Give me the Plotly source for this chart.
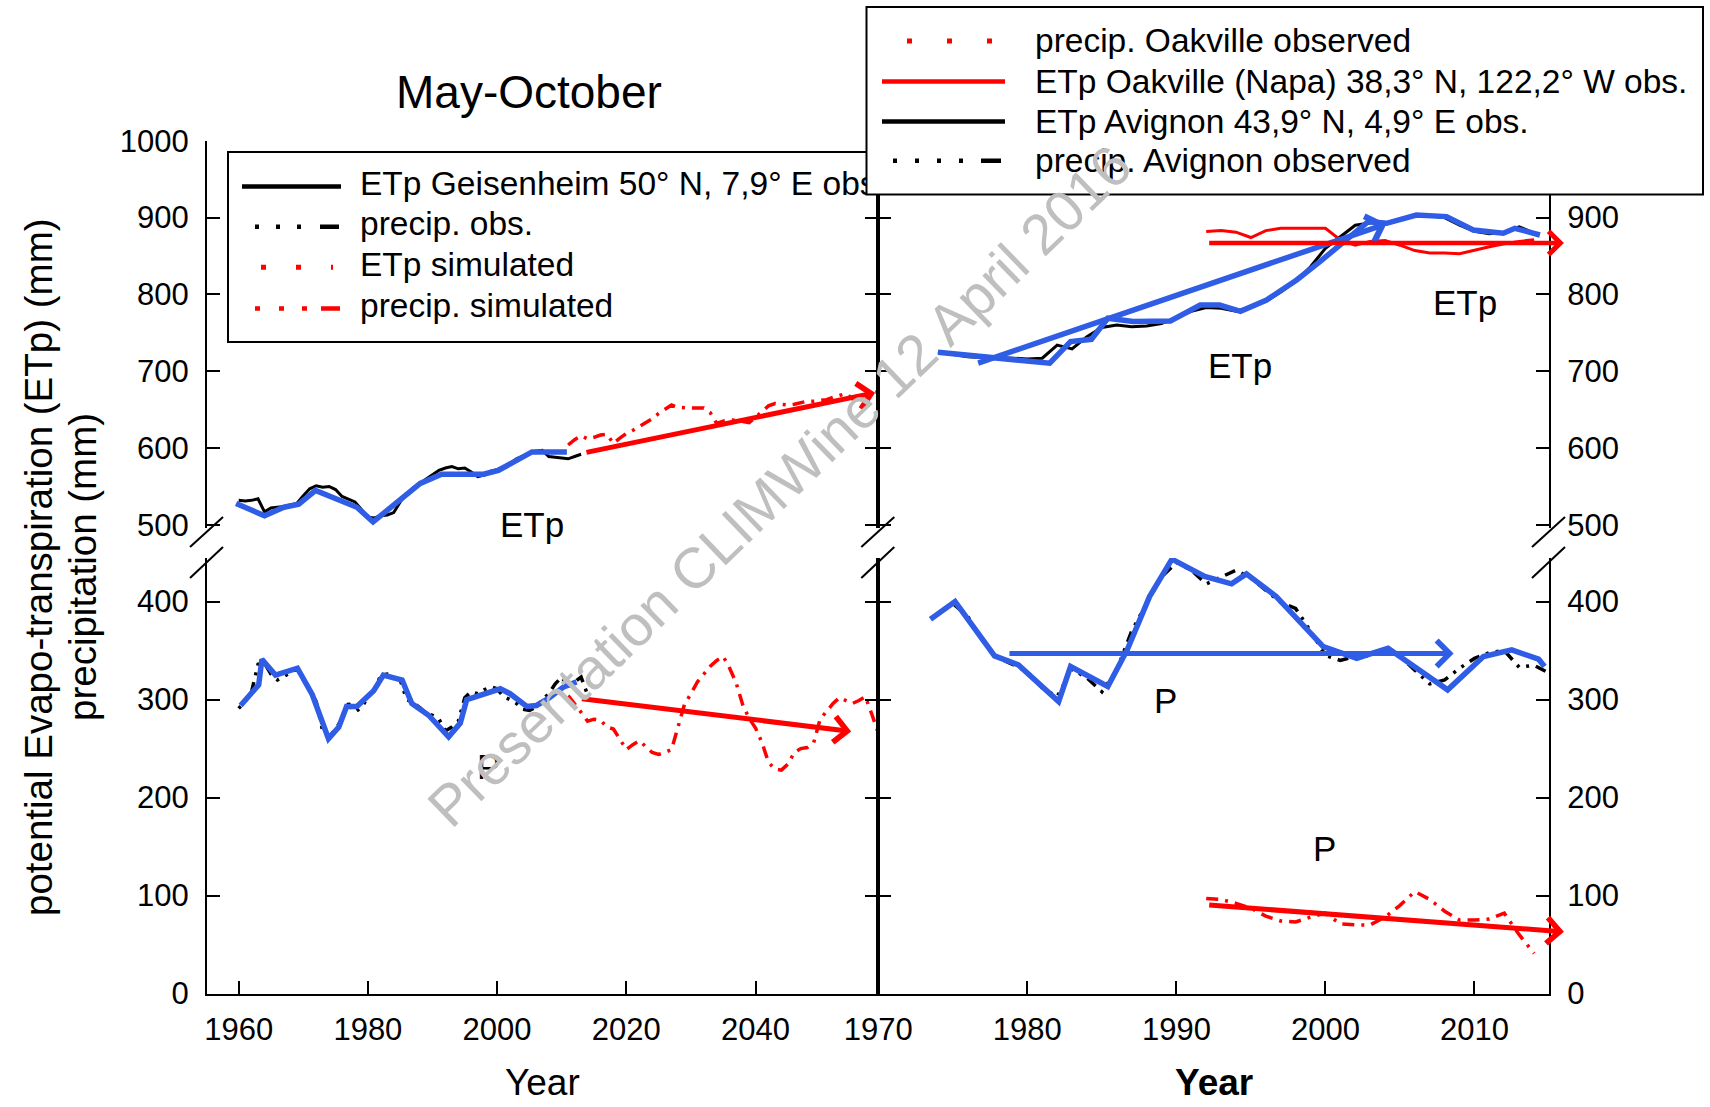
import plotly.graph_objects as go

W, H = 1710, 1107

# ------------------------------------------------------------------ data
# Geisenheim (left panel) - observed yearly values
geis_years = list(range(1960, 2014))
geis_etp_obs = [532, 531, 532, 534, 517, 522, 523, 524, 526, 528,
                538, 547, 551, 549, 550, 546, 537, 533, 530, 520,
                510, 509, 512, 513, 516, 530, 540, 548, 554, 560,
                565, 571, 574, 576, 573, 574, 569, 563, 565, 570,
                572, 576, 580, 586, 590, 593, 596, 597, 589, 588,
                587, 586, 589, 592]
geis_p_years = list(range(1960, 2015))
geis_p_obs = [291, 298, 308, 336, 337, 326, 320, 324, 328, 331,
              322, 310, 298, 268, 262, 270, 280, 296, 287, 292,
              302, 310, 325, 326, 323, 320, 300, 297, 292, 286,
              284, 280, 268, 272, 278, 302, 308, 306, 310, 313,
              311, 303, 300, 296, 290, 289, 292, 300, 306, 316,
              323, 313, 318, 323, 305]
# Geisenheim smoothed (blue)
geis_etp_smooth_years = [1959.6, 1964.0, 1967.0, 1969.3, 1971.9, 1978.3, 1980.8,
                         1988.1, 1991.4, 1997.9, 2000.2, 2005.4, 2010.8]
geis_etp_smooth = [528, 512, 523, 527, 545, 523, 504, 554, 566, 566, 571, 595, 595]
geis_p_smooth_years = [1960.3, 1963.1, 1963.6, 1965.7, 1969.1, 1971.4, 1973.9, 1975.5,
                       1976.7, 1978.3, 1980.9, 1982.4, 1985.3, 1986.8, 1989.4, 1992.5,
                       1994.3, 1995.3, 2000.5, 2002.0, 2004.6, 2006.1, 2007.9, 2010.3, 2012.3]
geis_p_smooth = [294, 315, 341, 325, 332, 305, 260, 272, 293, 293, 309, 325, 320,
                 296, 284, 262, 276, 300, 311, 306, 293, 294, 301, 313, 318]
# Simulated (left panel)
sim_years = list(range(2011, 2060))
sim_etp = [604, 611, 616, 612, 614, 617, 618, 606, 613, 619,
           623, 628, 633, 638, 645, 651, 656, 653, 652, 652,
           652, 652, 646, 632, 635, 637, 636, 634, 633, 640,
           648, 655, 658, 657, 656, 657, 659, 661, 661, 662,
           663, 666, 669, 671, 664, 666, 669, 672, 673]
sim_p = [304, 296, 287, 278, 280, 279, 272, 270, 260, 249,
         254, 258, 252, 246, 244, 246, 249, 271, 295, 306,
         318, 326, 334, 340, 344, 332, 317, 295, 281, 271,
         256, 236, 229, 228, 234, 246, 250, 251, 256, 280,
         288, 296, 302, 299, 296, 299, 303, 285, 266]

# Avignon (right panel)
avig_years = list(range(1974, 2015))
avig_etp_obs = [725, 722, 719, 718, 718, 717, 716, 717, 734, 729,
                745, 757, 760, 758, 759, 762, 770, 778, 783, 782,
                778, 784, 791, 803, 817, 836, 860, 875, 890, 893,
                893, 898, 903, 902, 900, 890, 882, 879, 881, 888,
                880]
avig_p_years = list(range(1974, 2016))
avig_p_obs = [388, 398, 385, 360, 343, 336, 328, 312, 303, 331,
              322, 308, 330, 370, 398, 425, 440, 432, 418, 425,
              432, 424, 412, 399, 393, 370, 345, 340, 344, 345,
              350, 344, 330, 316, 320, 332, 342, 348, 350, 333,
              335, 327]
avig_etp_smooth_years = [1974.0, 1977.9, 1981.5, 1982.9, 1984.3, 1985.4, 1987.1, 1989.6,
                         1991.6, 1992.9, 1994.3, 1996.05, 1998.07, 1999.63, 2000.97,
                         2002.31, 2002.87, 2004.1, 2006.1, 2008.13, 2009.92, 2011.93,
                         2012.71, 2014.39]
avig_etp_smooth = [724.7, 716.9, 710.4, 738.6, 741.6, 768.9, 764.6, 765.4, 786.2, 786.2,
                   778.0, 792.7, 818.8, 842.6, 864.3, 887.3, 894.7, 892.5, 903.3, 901.2,
                   883.8, 879.5, 886.0, 877.3]
avig_p_smooth_years = [1973.5, 1975.15, 1977.8, 1979.4, 1982.1, 1982.9, 1985.4, 1986.7,
                       1988.2, 1989.7, 1991.9, 1993.7, 1994.7, 1996.7, 1999.85, 2002.1,
                       2004.2, 2008.2, 2010.6, 2012.5, 2014.3, 2014.7]
avig_p_smooth = [382, 400, 344.6, 335.4, 297.9, 333.7, 313.3, 350.7, 405.1, 443.3, 425.6,
                 418.1, 428.3, 405.2, 354.1, 342.2, 352.4, 309.9, 343.9, 350.7, 341.2, 333.7]

# Oakville (right panel)
oak_years = list(range(1992, 2015))
oak_etp_obs = [882, 883, 881, 874, 883, 886, 886, 886, 886, 871, 864, 869,
               870, 864, 857, 854, 854, 853, 858, 862, 866, 869, 871]
oak_p_obs = [97, 96, 92, 87, 79, 74, 73, 78, 82, 71, 70, 70,
             78, 90, 104, 96, 84, 75, 75, 76, 82, 60, 41]

# Trend arrows: [start, end]
trend_geis_etp_x, trend_geis_etp_y = [2013.6, 2058.5], [594, 672]
trend_geis_p_x, trend_geis_p_y = [2012.9, 2054.8], [301, 267.5]
trend_avig_etp_x, trend_avig_etp_y = [1976.6, 2004.1], [710, 892]
trend_oak_etp_x, trend_oak_etp_y = [1992.1, 2016.0], [867, 867]
trend_avig_p_x, trend_avig_p_y = [1978.7, 2008.6], [347, 347]
trend_oak_p_x, trend_oak_p_y = [1992.1, 2016.0], [90.4, 63]

# Tick values / labels
x_left_ticks = [1960, 1980, 2000, 2020, 2040]
x_right_ticks = [1970, 1980, 1990, 2000, 2010]
y_top_ticks = [500, 600, 700, 800, 900, 1000]
y_bot_ticks = [0, 100, 200, 300, 400]

left_legend_labels = ["ETp Geisenheim 50° N, 7,9° E obs",
                      "precip. obs.", "ETp simulated", "precip. simulated"]
right_legend_labels = ["precip. Oakville observed",
                       "ETp Oakville (Napa) 38,3° N, 122,2° W obs.",
                       "ETp Avignon 43,9° N, 4,9° E obs.",
                       "precip. Avignon observed"]

# ------------------------------------------------------------------ style
FONT = "Liberation Sans, Arial, sans-serif"
BLUE = "#2F5DE6"
RED = "#FF0000"
BLACK = "#000000"
DASH_P_OBS = "3px,7px,3px,7px,11px,7px"
DASH_SIM = "12px,7px,3px,7px"


def fx(px):
    return px / W


def fy(py):
    return 1 - py / H


XL = (207.0, 878.3)
XR = (878.3, 1549.0)
Y_TOP = (528.0, 140.7)
Y_BOT = (993.5, 558.0)

fig = go.Figure()


def line(x, y, xa, ya, color, width, dash="solid"):
    fig.add_trace(go.Scatter(x=x, y=y, xaxis=xa, yaxis=ya, mode="lines",
                             line=dict(color=color, width=width, dash=dash),
                             showlegend=False, hoverinfo="skip"))


# left panel
line(geis_years, geis_etp_obs, "x", "y", BLACK, 3)
line(sim_years, sim_etp, "x", "y", RED, 3.5, DASH_SIM)
line(geis_etp_smooth_years, geis_etp_smooth, "x", "y", BLUE, 5.5)
line(geis_p_years, geis_p_obs, "x", "y2", BLACK, 3.5, DASH_P_OBS)
line(sim_years, sim_p, "x", "y2", RED, 3.5, DASH_SIM)
line(geis_p_smooth_years, geis_p_smooth, "x", "y2", BLUE, 5.5)
# right panel
line(avig_years, avig_etp_obs, "x2", "y3", BLACK, 3)
line(oak_years, oak_etp_obs, "x2", "y3", RED, 3)
line(avig_etp_smooth_years, avig_etp_smooth, "x2", "y3", BLUE, 5.5)
line(avig_p_years, avig_p_obs, "x2", "y4", BLACK, 3.5, DASH_P_OBS)
line(oak_years, oak_p_obs, "x2", "y4", RED, 3.5, DASH_SIM)
line(avig_p_smooth_years, avig_p_smooth, "x2", "y4", BLUE, 5.5)

# left legend text (under the right legend box)
left_rows = [186.5, 226.8, 267.2, 308.6]
fig.add_trace(go.Scatter(x=[360] * 4, y=left_rows, xaxis="x5", yaxis="y5", mode="text",
                         text=left_legend_labels, textposition="middle right",
                         textfont=dict(family=FONT, size=33.5, color=BLACK),
                         cliponaxis=False, showlegend=False, hoverinfo="skip"))

tickfont = dict(family=FONT, size=31, color=BLACK)
axc = dict(showline=True, linecolor=BLACK, linewidth=2, ticks="inside", ticklen=13,
           tickwidth=2, tickcolor=BLACK, showgrid=False, zeroline=False, tickfont=tickfont,
           automargin=False)

layout = dict(
    width=W, height=H, autosize=False,
    margin=dict(l=0, r=0, t=0, b=0, pad=0, autoexpand=False),
    paper_bgcolor="white", plot_bgcolor="rgba(0,0,0,0)",
    showlegend=False,
    xaxis=dict(**axc, domain=[fx(XL[0]), fx(XL[1])], range=[1955.1, 2059], anchor="y2",
               tickmode="array", tickvals=x_left_ticks, ticktext=[str(v) for v in x_left_ticks],
               ticklabelstandoff=7),
    xaxis3=dict(**axc, overlaying="x", range=[1955.1, 2059], anchor="y", side="top",
                tickmode="array", tickvals=x_left_ticks, showticklabels=False),
    xaxis2=dict(**axc, domain=[fx(XR[0]), fx(XR[1])], range=[1970, 2015], anchor="y4",
                tickmode="array", tickvals=x_right_ticks, ticktext=[str(v) for v in x_right_ticks],
                ticklabelstandoff=7),
    xaxis4=dict(**axc, overlaying="x2", range=[1970, 2015], anchor="y3", side="top",
                tickmode="array", tickvals=x_right_ticks, showticklabels=False),
    yaxis=dict(**axc, domain=[fy(Y_TOP[0]), fy(Y_TOP[1])], range=[496, 1000], anchor="x",
               mirror="ticks", tickmode="array", tickvals=y_top_ticks, ticklabelstandoff=10),
    yaxis2=dict(**axc, domain=[fy(Y_BOT[0]), fy(Y_BOT[1])], range=[0, 444.5], anchor="x",
                mirror="ticks", tickmode="array", tickvals=y_bot_ticks, ticklabelstandoff=10),
    yaxis3=dict(**axc, domain=[fy(Y_TOP[0]), fy(Y_TOP[1])], range=[496, 1000], anchor="x2",
                side="right", mirror="ticks", tickmode="array", tickvals=y_top_ticks,
                ticklabelstandoff=10),
    yaxis4=dict(**axc, domain=[fy(Y_BOT[0]), fy(Y_BOT[1])], range=[0, 444.5], anchor="x2",
                side="right", mirror="ticks", tickmode="array", tickvals=y_bot_ticks,
                ticklabelstandoff=10),
    xaxis5=dict(domain=[0, 1], range=[0, W], visible=False, anchor="y5", fixedrange=True),
    yaxis5=dict(domain=[0, 1], range=[H, 0], visible=False, anchor="x5", fixedrange=True),
)
fig.update_layout(**layout)

# ------------------------------------------------------------------ shapes
shapes = []


def pline(x0, y0, x1, y1, color=BLACK, width=2, dash="solid"):
    shapes.append(dict(type="line", xref="paper", yref="paper", x0=fx(x0), x1=fx(x1),
                       y0=fy(y0), y1=fy(y1), line=dict(color=color, width=width, dash=dash),
                       layer="above"))


def prect(x0, y0, x1, y1, fill):
    shapes.append(dict(type="rect", xref="paper", yref="paper", x0=fx(x0), x1=fx(x1),
                       y0=fy(y1), y1=fy(y0), line=dict(color=BLACK, width=2),
                       fillcolor=fill, layer="above"))


# left legend box + samples
prect(228, 152, 878.3, 342, "rgba(0,0,0,0)")
pline(242, left_rows[0], 341, left_rows[0], BLACK, 4.5)
pline(255, left_rows[1], 341, left_rows[1], BLACK, 4.5, "4px,17px,4px,17px,4px,19px,19px,40px")
pline(261, left_rows[2], 333, left_rows[2], RED, 5, "5px,30px")
pline(255, left_rows[3], 341, left_rows[3], RED, 4.5, "5px,19px,5px,18px,5px,14px,19px,40px")

# axis break marks
for axx in (XL[0], XL[1], XR[1]):
    pline(axx - 17, 547, axx + 16, 517)
    pline(axx - 17, 578, axx + 16, 547)

# right legend box + samples
right_rows = [41.0, 81.4, 121.4, 160.7]
prect(866.5, 7, 1703, 194.6, "white")
pline(907, right_rows[0], 1005, right_rows[0], RED, 5, "5px,35px")
pline(882, right_rows[1], 1005, right_rows[1], RED, 4.5)
pline(882, right_rows[2], 1005, right_rows[2], BLACK, 4.5)
pline(893, right_rows[3], 1005, right_rows[3], BLACK, 4.5,
      "4px,18px,4px,18px,4px,18px,4px,18px,20px,40px")
fig.update_layout(shapes=shapes)

# ------------------------------------------------------------------ annotations
ann = []
for r, t in zip(right_rows, right_legend_labels):
    ann.append(dict(x=fx(1033.4), y=fy(r), xref="paper", yref="paper", text=t,
                    showarrow=False, xanchor="left", yanchor="middle",
                    font=dict(family=FONT, size=33.5, color=BLACK)))


def ptext(px, py, text, size, angle=0):
    ann.append(dict(x=fx(px), y=fy(py), xref="paper", yref="paper", text=text,
                    textangle=angle, showarrow=False, xanchor="center", yanchor="middle",
                    font=dict(family=FONT, size=size, color=BLACK)))


ptext(529, 91.6, "May-October", 46)
ptext(38, 567, "potential Evapo-transpiration (ETp) (mm)", 38.5, -90)
ptext(82, 567, "precipitation (mm)", 38.5, -90)
ptext(542, 1082, "Year", 37)
ptext(1214, 1082, "<b>Year</b>", 37)

labfont = dict(family=FONT, size=35, color=BLACK)
for (xx, yy, xr, yr, t) in [(2005.4, 501, "x", "y", "ETp"), (1998.6, 231.5, "x", "y2", "P"),
                            (1994.3, 707, "x2", "y3", "ETp"), (2009.35, 789, "x2", "y3", "ETp"),
                            (1989.3, 299, "x2", "y4", "P"), (1999.95, 148.5, "x2", "y4", "P")]:
    ann.append(dict(x=xx, y=yy, xref=xr, yref=yr, text=t, showarrow=False, font=labfont,
                    xanchor="center", yanchor="middle"))


def arrow(xs, ys, xr, yr, color, width):
    ann.append(dict(x=xs[1], y=ys[1], ax=xs[0], ay=ys[0], xref=xr, yref=yr, axref=xr,
                    ayref=yr, text="", showarrow=True, arrowhead=4, arrowsize=1.0,
                    arrowwidth=width, arrowcolor=color, standoff=0))


arrow(trend_geis_etp_x, trend_geis_etp_y, "x", "y", RED, 5)
arrow(trend_geis_p_x, trend_geis_p_y, "x", "y2", RED, 5)
arrow(trend_avig_etp_x, trend_avig_etp_y, "x2", "y3", BLUE, 5.5)
arrow(trend_oak_etp_x, trend_oak_etp_y, "x2", "y3", RED, 4.5)
arrow(trend_avig_p_x, trend_avig_p_y, "x2", "y4", BLUE, 5)
arrow(trend_oak_p_x, trend_oak_p_y, "x2", "y4", RED, 5)

# watermark
ann.append(dict(x=fx(779), y=fy(486), xref="paper", yref="paper",
                text="Presentation CLIMWine 12 April 2016", textangle=-44, showarrow=False,
                xanchor="center", yanchor="middle",
                font=dict(family=FONT, size=57, color="#BFBFBF")))

fig.update_layout(annotations=ann)
fig.write_html("out.html")
